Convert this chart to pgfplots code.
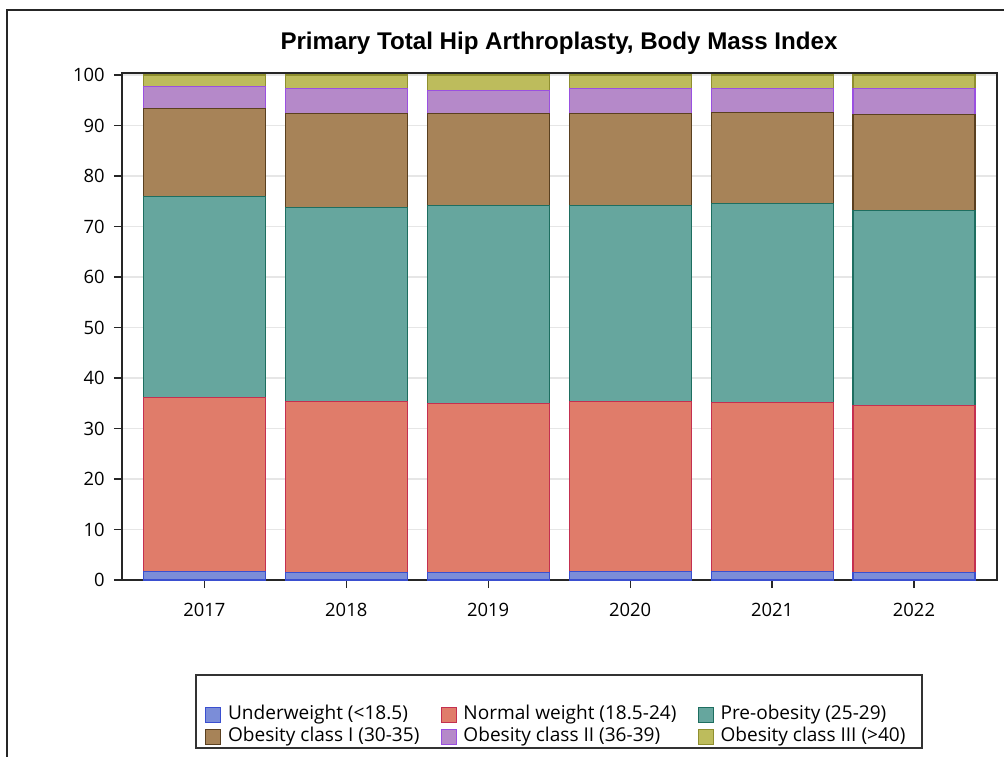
\documentclass[border=0pt]{standalone}
\usepackage{pgfplots}
\usepackage{pgfplotstable}
\pgfplotsset{compat=1.18}
\usepackage{fontspec}
\setmainfont{Open Sans}
\newfontfamily\titlefont{Liberation Sans}

\definecolor{f1}{HTML}{7B8DD8}\definecolor{e1}{HTML}{3A4FD0}
\definecolor{f2}{HTML}{E07C6A}\definecolor{e2}{HTML}{C43050}
\definecolor{f3}{HTML}{66A69E}\definecolor{e3}{HTML}{1E6E60}
\definecolor{f4}{HTML}{A78358}\definecolor{e4}{HTML}{5A4020}
\definecolor{f5}{HTML}{B589C9}\definecolor{e5}{HTML}{9A50E0}
\definecolor{f6}{HTML}{BDBC5C}\definecolor{e6}{HTML}{8F8F2F}
\definecolor{gridc}{HTML}{E6E6E6}

\pgfplotstableread{
x uw nw po oa ob oc
0 1.7 34.4 39.8 17.5 4.3 2.3
1 1.4 34.0 38.4 18.6 5.0 2.6
2 1.5 33.5 39.2 18.1 4.7 3.0
3 1.6 33.8 38.7 18.3 5.0 2.6
4 1.7 33.5 39.3 18.1 4.8 2.6
5 1.4 33.2 38.5 19.1 5.2 2.6
}\bmidata

\pgfplotsset{sq/.style={legend image code/.code={\draw[##1,line width=0.8pt] (0pt,-5.6pt) rectangle (11.25pt,5.6pt);}}}

\begin{document}
\begin{tikzpicture}
\useasboundingbox (0,0) rectangle (753pt,-567.75pt);
\draw[line width=1.1pt, black!85] (5.25pt,-567.75pt) -- (5.25pt,-7.5pt) -- (753pt,-7.5pt);
\node[font=\titlefont\bfseries\fontsize{18.1}{21}\selectfont] at (419.25pt,-32.25pt) {Primary Total Hip Arthroplasty, Body Mass Index};
\draw[line width=0.9pt, black!80] (147pt,-506.25pt) rectangle (691.5pt,-561pt);
\begin{axis}[
  at={(91.5pt,-54.75pt)}, anchor=north west,
  scale only axis, width=656.25pt, height=380.25pt,
  xmin=-0.58, xmax=5.585, ymin=0, ymax=100.4,
  ybar stacked, bar width=91.5pt,
  xtick={0,1,2,3,4,5}, xticklabels={2017,2018,2019,2020,2021,2022},
  ytick={0,10,...,100},
  ymajorgrids, grid style={gridc, line width=0.8pt},
  axis line style={black!85, line width=1pt},
  xtick pos=bottom, ytick pos=left, tick align=outside,
  major tick length=6pt,
  tick style={black!85, line width=0.9pt},
  ticklabel style={font=\fontsize{13.8}{16}\selectfont},
  /pgf/number format/assume math mode=true,
  xticklabel style={yshift=-8pt},
  yticklabel style={xshift=-3.5pt},
  legend columns=3,
  legend cell align=left,
  legend style={at={(0.0949,-0.2465)}, anchor=north west, draw=none, fill=none,
    inner sep=0pt, row sep=2pt,
    nodes={font=\fontsize{14.3}{16}\selectfont, text height=11pt, text depth=3.5pt, inner ysep=0pt},
    /tikz/every odd column/.append style={column sep=3pt},
    /tikz/every even column/.append style={column sep=14pt}},
]
\addplot+[fill=f1, draw=e1, line width=0.8pt, sq] table[x=x,y=uw]{\bmidata};
\addlegendentry{Underweight (<18.5)}
\addplot+[fill=f2, draw=e2, line width=0.8pt, sq] table[x=x,y=nw]{\bmidata};
\addlegendentry{Normal weight (18.5-24)}
\addplot+[fill=f3, draw=e3, line width=0.8pt, sq] table[x=x,y=po]{\bmidata};
\addlegendentry{Pre-obesity (25-29)}
\addplot+[fill=f4, draw=e4, line width=0.8pt, sq] table[x=x,y=oa]{\bmidata};
\addlegendentry{Obesity class I (30-35)}
\addplot+[fill=f5, draw=e5, line width=0.8pt, sq] table[x=x,y=ob]{\bmidata};
\addlegendentry{Obesity class II (36-39)}
\addplot+[fill=f6, draw=e6, line width=0.8pt, sq] table[x=x,y=oc]{\bmidata};
\addlegendentry{Obesity class III (>40)}
\end{axis}
\end{tikzpicture}
\end{document}
